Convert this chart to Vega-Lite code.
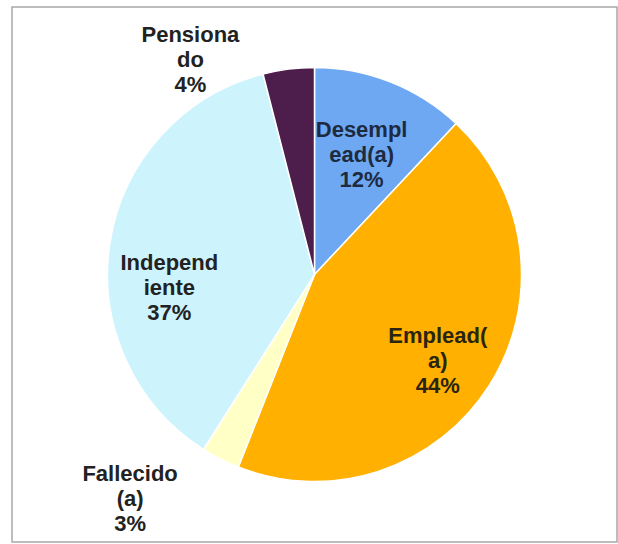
{
  "$schema": "https://vega.github.io/schema/vega-lite/v6.json",
  "width": 605,
  "height": 535,
  "autosize": "none",
  "padding": {"left": 12, "top": 7, "right": 1, "bottom": 2},
  "background": "white",
  "view": {"stroke": "#a8a8a8", "strokeWidth": 1.5},
  "config": {"view": {"stroke": "#a8a8a8", "strokeWidth": 1.5}},
  "data": {
    "values": [
      {"cat": "Desempleado(a)", "value": 12, "label": "Desempl\nead(a)\n12%"},
      {"cat": "Empleado(a)", "value": 44, "label": "Emplead(\na)\n44%"},
      {"cat": "Fallecido(a)", "value": 3, "label": "Fallecido\n(a)\n3%"},
      {"cat": "Independiente", "value": 37, "label": "Independ\niente\n37%"},
      {"cat": "Pensionado", "value": 4, "label": "Pensiona\ndo\n4%"}
    ]
  },
  "encoding": {
    "theta": {"field": "value", "type": "quantitative", "stack": true},
    "color": {
      "field": "cat",
      "type": "nominal",
      "scale": {
        "domain": ["Desempleado(a)", "Empleado(a)", "Fallecido(a)", "Independiente", "Pensionado"],
        "range": ["#6ea8f2", "#ffb000", "#ffffc6", "#cdf3fc", "#4d1e4b"]
      },
      "legend": null
    }
  },
  "layer": [
    {"mark": {"type": "arc", "outerRadius": 207, "stroke": "white", "strokeWidth": 1.5}},
    {
      "mark": {"type": "text", "radius": 128, "dy": -25, "font": "Liberation Sans", "fontWeight": "bold", "fontSize": 22, "lineHeight": 25, "lineBreak": "\n", "align": "center", "baseline": "middle"},
      "encoding": {
        "color": {"value": "#1e2a40"},
        "detail": {"field": "cat"},
        "text": {"condition": {"test": "datum.cat === 'Desempleado(a)'", "field": "label"}, "value": ""}
      }
    },
    {
      "mark": {"type": "text", "radius": 146, "dy": -17, "font": "Liberation Sans", "fontWeight": "bold", "fontSize": 22, "lineHeight": 25, "lineBreak": "\n", "align": "center", "baseline": "middle"},
      "encoding": {
        "color": {"value": "#2a2510"},
        "detail": {"field": "cat"},
        "text": {"condition": {"test": "datum.cat === 'Empleado(a)'", "field": "label"}, "value": ""}
      }
    },
    {
      "mark": {"type": "text", "radius": 147, "dy": 11, "font": "Liberation Sans", "fontWeight": "bold", "fontSize": 22, "lineHeight": 25, "lineBreak": "\n", "align": "center", "baseline": "middle"},
      "encoding": {
        "color": {"value": "#222222"},
        "detail": {"field": "cat"},
        "text": {"condition": {"test": "datum.cat === 'Independiente'", "field": "label"}, "value": ""}
      }
    },
    {
      "mark": {"type": "text", "radius": 216, "dx": -97, "dy": -25, "font": "Liberation Sans", "fontWeight": "bold", "fontSize": 22, "lineHeight": 25, "lineBreak": "\n", "align": "center", "baseline": "middle"},
      "encoding": {
        "color": {"value": "#222222"},
        "detail": {"field": "cat"},
        "text": {"condition": {"test": "datum.cat === 'Pensionado'", "field": "label"}, "value": ""}
      }
    },
    {
      "mark": {"type": "text", "radius": 252, "dx": -70, "dy": -25, "font": "Liberation Sans", "fontWeight": "bold", "fontSize": 22, "lineHeight": 25, "lineBreak": "\n", "align": "center", "baseline": "middle"},
      "encoding": {
        "color": {"value": "#222222"},
        "detail": {"field": "cat"},
        "text": {"condition": {"test": "datum.cat === 'Fallecido(a)'", "field": "label"}, "value": ""}
      }
    }
  ]
}
